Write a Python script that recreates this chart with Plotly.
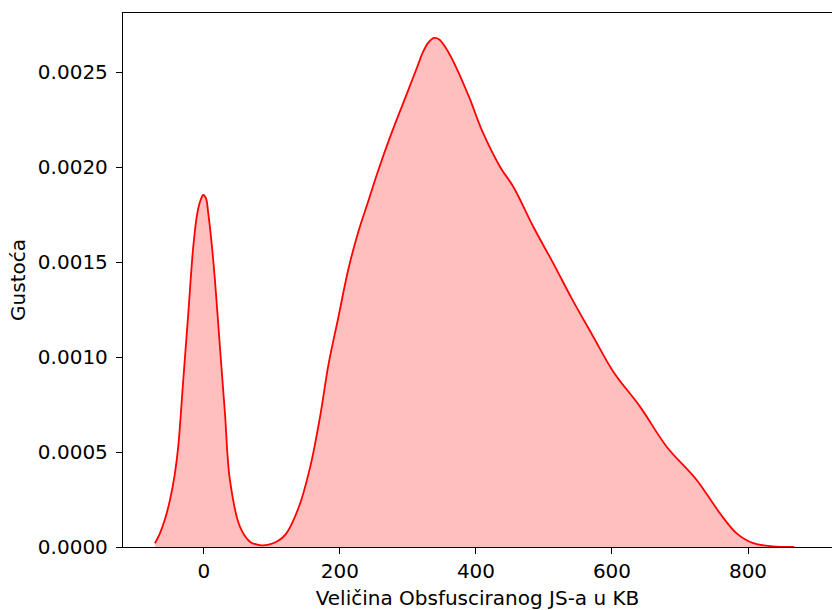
import plotly.graph_objects as go

# KDE curve (x in KB, density)
size_kb = [-72, -64.7, -57, -50, -43, -37.8, -30.4, -23, -15.7, -9.8, -5, -1, 3, 6.4, 11, 16.2,
           23.5, 30.9, 38.2, 52.9, 67.6, 82, 95, 108, 120.5, 139.8, 156.6,
           171.1, 183.1, 197.6, 212, 226.5, 241, 255.4, 274.7, 294, 313.3, 322, 330, 338.3, 346,
           356, 371, 390.4, 409.6, 435.3, 454.9, 484.3, 513.7, 540.7, 572.5, 601.9, 641.2, 680.4,
           724.5, 758.8, 783.3, 807.8, 837, 868]
density = [0.00002, 0.000072, 0.00015, 0.000247, 0.00038, 0.000528, 0.000879, 0.00123, 0.00158,
           0.001756, 0.001825, 0.001853, 0.001835, 0.001756, 0.00161, 0.001405, 0.001054, 0.000704,
           0.000353, 0.000107, 0.000028, 0.00001, 0.000012, 0.00003, 0.000068, 0.000213, 0.000427,
           0.000693, 0.00096, 0.001208, 0.001457,
           0.001653, 0.001813, 0.001973, 0.002168, 0.002346, 0.002524, 0.002605, 0.002655, 0.00268,
           0.002672, 0.002625, 0.002524, 0.002364, 0.002186, 0.002002, 0.001896, 0.001686, 0.001493,
           0.001309, 0.001107, 0.000923, 0.000739, 0.000528, 0.000353, 0.000177, 0.000072, 0.00002,
           0.000003, 0.0]

x_ticks = [0, 200, 400, 600, 800]
y_ticks = [0.0, 0.0005, 0.0010, 0.0015, 0.0020, 0.0025]
x_title = "Veličina Obsfusciranog JS-a u KB"
y_title = "Gustoća"

fig = go.Figure()
fig.add_trace(go.Scatter(
    x=size_kb, y=density, mode="lines",
    line=dict(color="#ff0000", width=1.8, shape="spline", smoothing=1.0),
    fill="tozeroy", fillcolor="rgba(255,0,0,0.25)",
    showlegend=False, hoverinfo="skip",
))

font = dict(family="DejaVu Sans", size=20, color="#000000")
fig.update_layout(
    width=832, height=610,
    margin=dict(l=123, r=0, t=13, b=63),
    paper_bgcolor="white", plot_bgcolor="white",
    font=font,
    xaxis=dict(
        range=[-119, 923.5], tickvals=x_ticks, ticktext=[str(v) for v in x_ticks],
        showgrid=False, zeroline=False, showline=True, linecolor="#000000", linewidth=1.3,
        mirror=True, ticks="outside", ticklen=6, tickwidth=1.2, tickcolor="#000000",
        title=dict(text=x_title, standoff=9, font=font), tickfont=font,
    ),
    yaxis=dict(
        range=[0, 0.002811], tickvals=y_ticks, ticktext=[f"{v:.4f}" for v in y_ticks],
        showgrid=False, zeroline=False, showline=True, linecolor="#000000", linewidth=1.3,
        ticks="outside", ticklen=6, tickwidth=1.2, tickcolor="#000000", ticklabelstandoff=4,
        title=dict(text=y_title, standoff=6, font=font), tickfont=font,
    ),
)
fig.write_html("out.html")
